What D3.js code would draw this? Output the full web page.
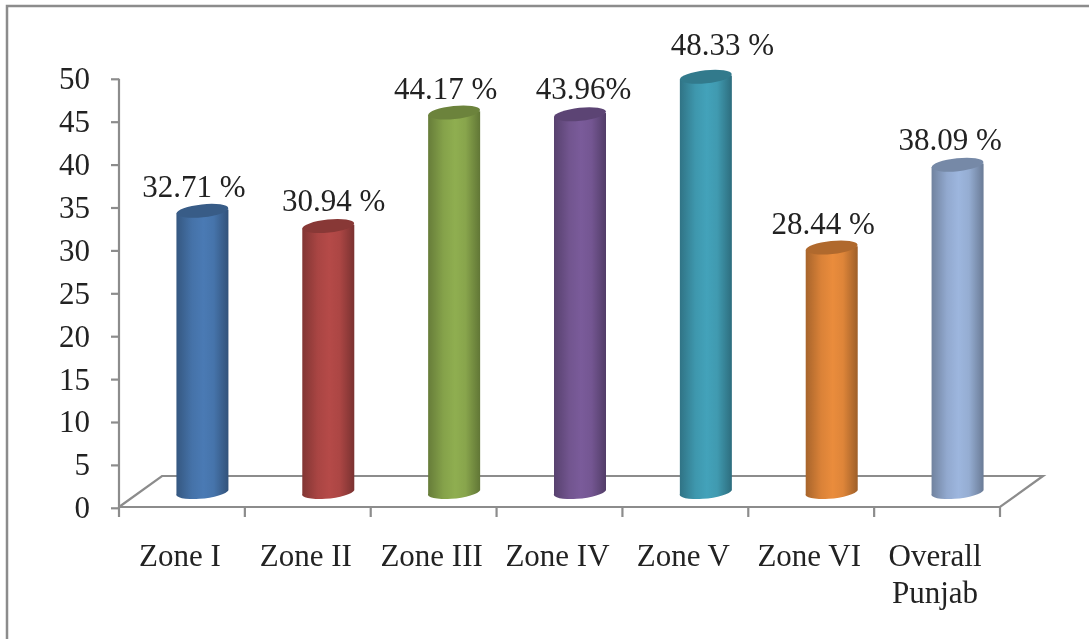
<!DOCTYPE html>
<html>
<head>
<meta charset="utf-8">
<script src="https://cdn.jsdelivr.net/npm/d3@7"></script>
<style>
  html, body { margin: 0; padding: 0; background: #fff; overflow: hidden; }
  svg { filter: blur(0.4px); }
  text { font-family: "Liberation Serif", serif; fill: #222; }
</style>
</head>
<body>
<script>
var zones = [["Zone I"], ["Zone II"], ["Zone III"], ["Zone IV"], ["Zone V"], ["Zone VI"], ["Overall", "Punjab"]];
var values = [32.71, 30.94, 44.17, 43.96, 48.33, 28.44, 38.09];
var valueLabels = ["32.71 %", "30.94 %", "44.17 %", "43.96%", "48.33 %", "28.44 %", "38.09 %"];
var barColors = ["#4a7ab4", "#b54a48", "#8fae50", "#7a5b9a", "#43a2ba", "#ea8c3c", "#9db6de"];
var yTicks = [0, 5, 10, 15, 20, 25, 30, 35, 40, 45, 50];

var wx = 1089, hy = 639;
var axisLeft = 119, axisRight = 1000, axisBottom = 507, axisTop = 78;
var depthX = 43, depthY = 31;
var axisColor = "#8c8c8c";

var canvas = d3.select("body").append("svg")
    .attr("width", wx)
    .attr("height", hy);

canvas.append("rect").attr("width", wx).attr("height", hy).attr("fill", "white");

// outer frame, only left and top show in the crop
canvas.append("path")
    .attr("d", "M7," + hy + "V6H" + wx)
    .attr("fill", "none")
    .attr("stroke", axisColor)
    .attr("stroke-width", 2.5);

var x = d3.scaleBand().domain(d3.range(zones.length)).range([axisLeft, axisRight]);
var y = d3.scaleLinear().domain([0, 50]).range([axisBottom, axisTop]);

// y axis
var yAxis = d3.axisLeft(y).tickValues(yTicks).tickSize(8).tickPadding(21);
var yG = canvas.append("g").attr("transform", "translate(" + axisLeft + ",0.8)").call(yAxis);
yG.select(".domain").attr("d", "M0," + axisTop + "V" + axisBottom).attr("stroke", axisColor).attr("stroke-width", 2.2);
yG.selectAll("line").attr("stroke", axisColor).attr("stroke-width", 2.2);
yG.selectAll("text").attr("font-size", 31).style("font-family", "Liberation Serif").attr("fill", "#222");

// floor
canvas.append("path")
    .attr("d", "M" + axisLeft + "," + axisBottom + "L" + (axisLeft + depthX) + "," + (axisBottom - depthY) +
               "H" + (axisRight + depthX) + "L" + axisRight + "," + axisBottom + "H" + axisLeft)
    .attr("fill", "none")
    .attr("stroke", axisColor)
    .attr("stroke-width", 2.2);

// x ticks
canvas.selectAll(".xtick")
    .data(d3.range(zones.length + 1))
    .enter().append("line")
    .attr("class", "xtick")
    .attr("x1", function(d) { return axisLeft + d * x.step(); })
    .attr("x2", function(d) { return axisLeft + d * x.step(); })
    .attr("y1", axisBottom)
    .attr("y2", axisBottom + 10)
    .attr("stroke", axisColor)
    .attr("stroke-width", 2.2);

// gradients for the cylinders
var defs = canvas.append("defs");
barColors.forEach(function(c, i) {
  var g = defs.append("linearGradient").attr("id", "cyl" + i);
  g.append("stop").attr("offset", "0%").attr("stop-color", d3.color(c).darker(0.95));
  g.append("stop").attr("offset", "30%").attr("stop-color", d3.color(c).darker(0.2));
  g.append("stop").attr("offset", "52%").attr("stop-color", c);
  g.append("stop").attr("offset", "72%").attr("stop-color", d3.color(c).darker(0.15));
  g.append("stop").attr("offset", "100%").attr("stop-color", d3.color(c).darker(1.1));
});

var rx = 26, ry = 6.5, tilt = 1.8, lift = 15;

function barX(i) { return x(i) + x.bandwidth() / 2 + 20.5; }

var bars = canvas.selectAll(".bar")
    .data(values)
    .enter().append("g")
    .attr("class", "bar");

bars.append("path")
    .attr("fill", function(d, i) { return "url(#cyl" + i + ")"; })
    .attr("d", function(d, i) {
      var cx = barX(i);
      var t = y(d) - lift, b = y(0) - lift;
      return "M" + (cx - rx) + "," + (t + tilt) +
             "L" + (cx - rx) + "," + (b + tilt) +
             "A" + rx + "," + ry + " -6 0 0 " + (cx + rx) + "," + (b - tilt) +
             "L" + (cx + rx) + "," + (t - tilt) + "Z";
    });

bars.append("ellipse")
    .attr("rx", rx)
    .attr("ry", ry)
    .attr("fill", function(d, i) { return d3.color(barColors[i]).darker(0.8); })
    .attr("transform", function(d, i) {
      return "translate(" + barX(i) + "," + (y(d) - lift - 0.5) + ") rotate(-6)";
    });

// value labels were dragged by hand in the original, so each has its own nudge
var nudgeX = [12, 26, 12, 24, 37, 12, 13];
var nudgeY = [29, 31, 29, 31, 37, 29, 30];

canvas.selectAll(".vlabel")
    .data(values)
    .enter().append("text")
    .attr("class", "vlabel")
    .attr("text-anchor", "middle")
    .attr("font-size", 31)
    .attr("x", function(d, i) { return x(i) + x.bandwidth() / 2 + nudgeX[i]; })
    .attr("y", function(d, i) { return y(d) - nudgeY[i]; })
    .text(function(d, i) { return valueLabels[i]; });

// category labels
var cats = canvas.selectAll(".cat")
    .data(zones)
    .enter().append("text")
    .attr("class", "cat")
    .attr("text-anchor", "middle")
    .attr("font-size", 31)
    .attr("x", function(d, i) { return x(i) + x.bandwidth() / 2 - 2; })
    .attr("y", 566);

cats.selectAll("tspan")
    .data(function(d) { return d; })
    .enter().append("tspan")
    .attr("x", function() { return d3.select(this.parentNode).attr("x"); })
    .attr("dy", function(d, i) { return i ? 37 : 0; })
    .text(function(d) { return d; });
</script>
</body>
</html>
